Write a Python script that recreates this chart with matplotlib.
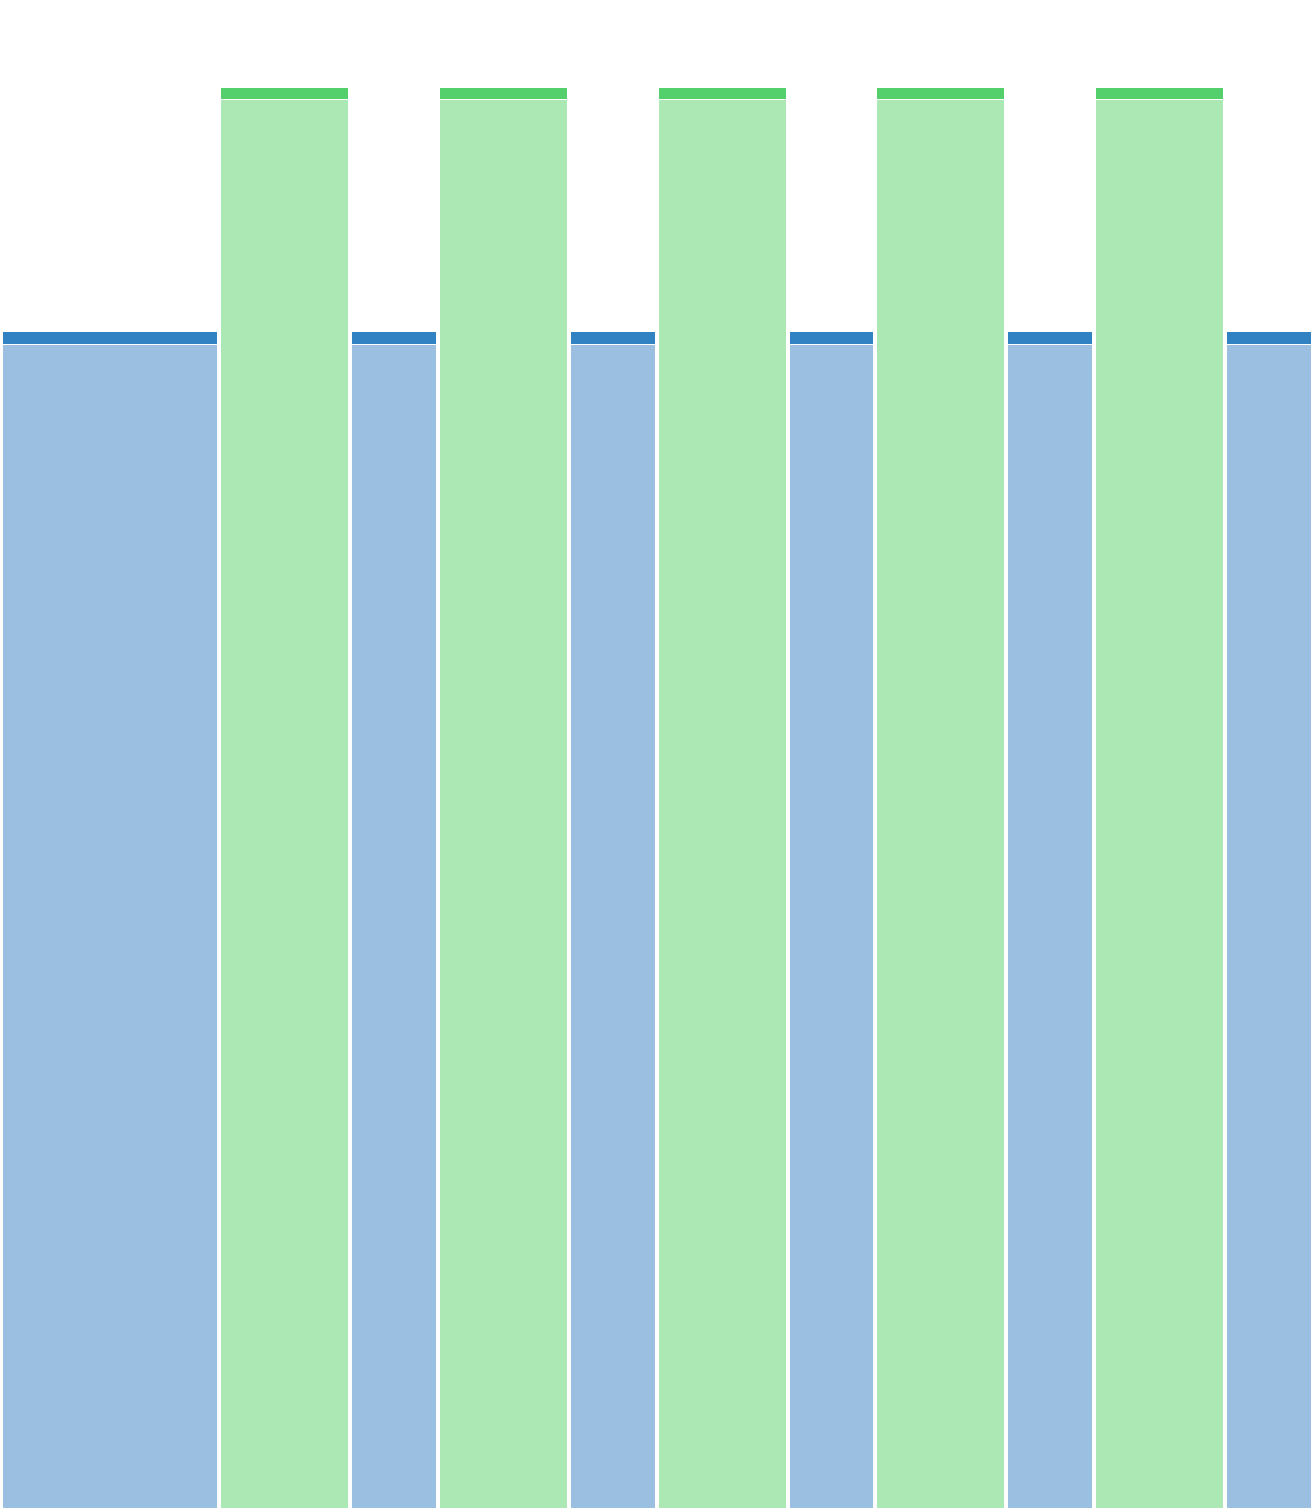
import matplotlib
matplotlib.use("Agg")
import matplotlib.pyplot as plt
import numpy as np

# ширины столбцов (в условных единицах) и их высоты
widths = [2.5, 1.5, 1, 1.5, 1, 1.5, 1, 1.5, 1, 1.5, 1]
heights = [82.8, 100, 82.8, 100, 82.8, 100, 82.8, 100, 82.8, 100, 82.8]
groups = ["blue", "green", "blue", "green", "blue", "green", "blue", "green", "blue", "green", "blue"]
cap = 0.8

fill_colors = {"blue": "#9abfe0", "green": "#abe8b4"}
cap_colors = {"blue": "#3182c2", "green": "#53cf6b"}

fig = plt.figure(figsize=(13.12, 15.08), dpi=100)
ax = fig.add_axes([0, 0, 1, 1])

total = sum(widths)
px = total / 1312  # одна точка в единицах x
gap = 4 * px
ypx = 106.2 / 1508

lefts = np.cumsum([0] + widths[:-1])
for left, w, h, g in zip(lefts, widths, heights, groups):
    ax.bar(left + gap / 2 + px / 2, h - cap - ypx, width=w - gap, align="edge",
           color=fill_colors[g], linewidth=0)
    ax.bar(left + gap / 2 + px / 2, cap, bottom=h - cap, width=w - gap, align="edge",
           color=cap_colors[g], linewidth=0)

ax.set_xlim(0, total)
ax.set_ylim(0, 106.2)
ax.axis("off")
fig.savefig("out.png", dpi=100)
